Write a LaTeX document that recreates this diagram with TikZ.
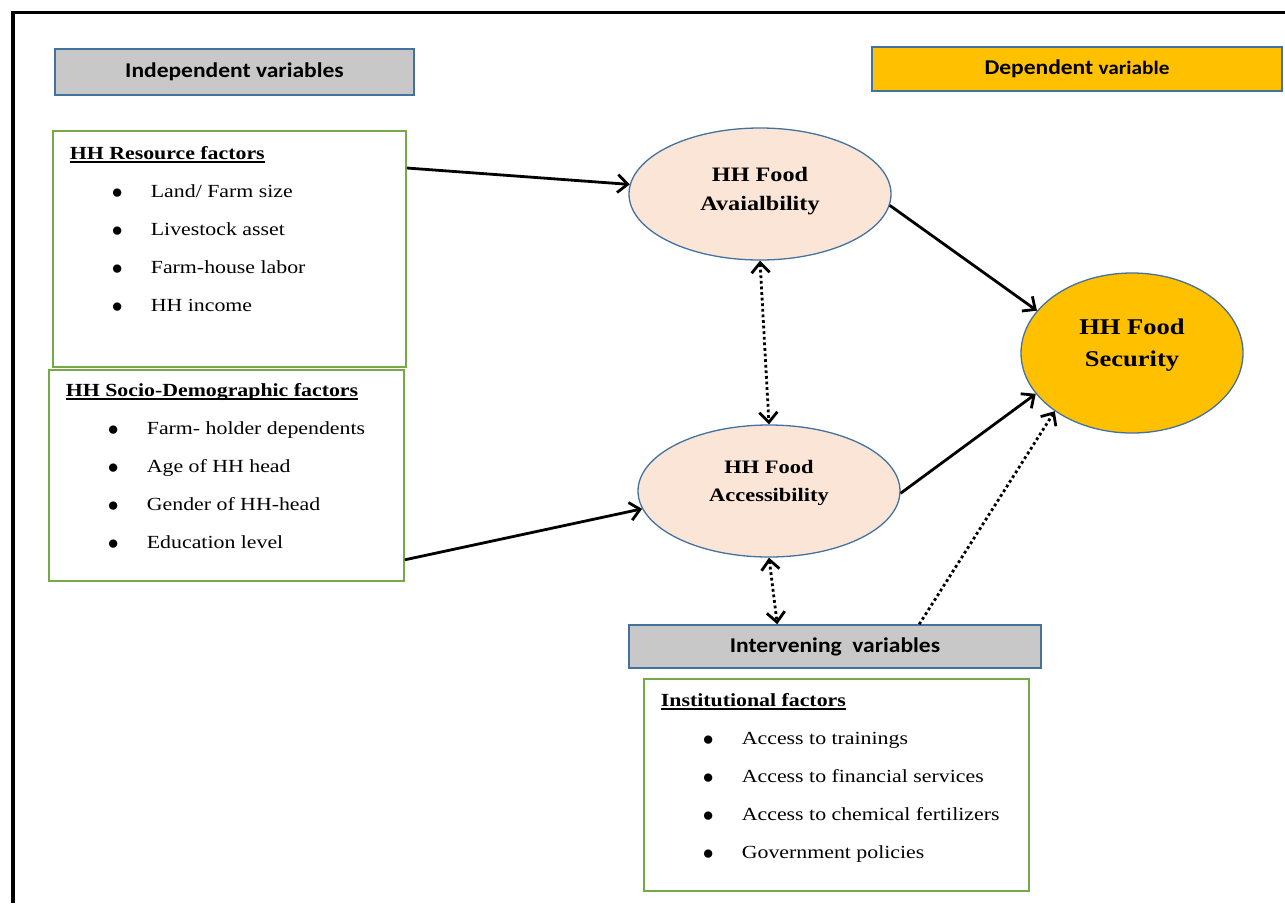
\documentclass[tikz,border=0pt]{standalone}
\usepackage{fontspec}
\setmainfont[FakeStretch=1.18]{Liberation Serif}
\newfontfamily\headsans[FakeStretch=1.12]{Carlito}
\usetikzlibrary{shapes.geometric, arrows.meta, positioning, calc}
\definecolor{boxgray}{RGB}{200, 200, 200}
\definecolor{edgeblue}{RGB}{68, 114, 160}
\definecolor{depgold}{RGB}{255, 192, 0}
\definecolor{peach}{RGB}{251, 229, 214}
\definecolor{factorgreen}{RGB}{118, 170, 70}

\newcommand{\headul}[1]{\setbox0\hbox{\textbf{#1}}\rlap{\rule[-2.6pt]{\wd0}{1.3pt}}\box0}
\newcommand{\factoritem}[1]{\\\hspace*{42pt}\makebox[39pt][l]{\raisebox{-0.6pt}{\scalebox{1.25}{$\bullet$}}}#1}
\newcommand{\lifted}[2]{\raisebox{0pt}[\height][\dimexpr\depth+#1\relax]{\begin{tabular}{@{}c@{}}#2\end{tabular}}}

\begin{document}
\begin{tikzpicture}[x=1pt, y=-1pt,
    varbox/.style={draw=edgeblue, line width=1.5pt, fill=boxgray, inner sep=0pt, font=\headsans\bfseries\fontsize{21}{25}\selectfont},
    depbox/.style={varbox, fill=depgold},
    factorbox/.style={draw=factorgreen, line width=1.8pt, anchor=north west, inner xsep=17pt, inner ysep=0pt, font=\fontsize{18.5}{38}\selectfont},
    construct/.style={ellipse, draw=edgeblue, line width=1.3pt, fill=peach, inner sep=0pt, minimum width=262pt, minimum height=132pt},
    outcome/.style={construct, fill=depgold, minimum width=222pt, minimum height=160pt},
    frame/.style={line width=3.5pt, black},
    arrow/.style={-{Straight Barb[length=10pt, width=18pt]}, line width=2.8pt, black},
    dotarrow/.style={arrow, dash pattern=on 2.8pt off 2.8pt},
    twoway/.style={dotarrow, {Straight Barb[length=10pt, width=18pt]}-{Straight Barb[length=10pt, width=18pt]}}
]
    \useasboundingbox (0,0) rectangle (1285,903);
    \draw[frame] (13,903) -- (13,12.5) -- (1285,12.5);

    % Variable headers
    \node[varbox, minimum width=359pt, minimum height=46pt] (indep) at (234.5,72) {Independent variables};
    \node[depbox, minimum width=410pt, minimum height=44pt] (dep) at (1077,69) {Dependent {\fontsize{19}{23}\selectfont variable}};
    \node[varbox, minimum width=412pt, minimum height=43pt] (inter) at (835,646.5) {Intervening~\ variables};

    % Factor boxes
    \node[factorbox] (res) at (52,130) {\parbox[c][236pt][t]{319pt}{\rule{0pt}{29pt}\headul{HH Resource factors}%
        \factoritem{Land/ Farm size}\factoritem{Livestock asset}\factoritem{Farm-house labor}\factoritem{HH income}}};
    \node[factorbox] (soc) at (48,369) {\parbox[c][211pt][t]{321pt}{\rule{0pt}{27pt}\headul{HH Socio-Demographic factors}%
        \factoritem{Farm- holder dependents}\factoritem{Age of HH head}\factoritem{Gender of HH-head}\factoritem{Education level}}};
    \node[factorbox] (inst) at (643,678) {\parbox[c][212pt][t]{351pt}{\rule{0pt}{28pt}\headul{Institutional factors}%
        \factoritem{Access to trainings}\factoritem{Access to financial services}\factoritem{Access to chemical fertilizers}\factoritem{Government policies}}};

    % Constructs
    \node[construct, font=\bfseries\fontsize{20.5}{29}\selectfont] (avail) at (760,194) {\lifted{8pt}{HH Food\\Avaialbility}};
    \node[construct, font=\bfseries\fontsize{19}{28}\selectfont] (acc) at (769,491) {\lifted{18pt}{HH Food\\Accessibility}};
    \node[outcome, font=\bfseries\fontsize{22.5}{32}\selectfont] (sec) at (1132,353) {\lifted{18pt}{HH Food\\Security}};

    % Arrows
    \draw[arrow] ($(res.north east)+(0,38)$) -- (avail);
    \draw[arrow] ($(soc.south east)+(0,-22)$) -- (acc.188);
    \draw[arrow] (avail.-5) -- (sec.156);
    \draw[arrow] (acc.-1) -- (sec.203);
    \draw[twoway] (avail.south) -- (acc.north);
    \draw[twoway] (acc.south) -- ($(inter.north west)+(149,0)$);
    \draw[dotarrow] ($(inter.north west)+(291,0)$) -- (sec.217);
\end{tikzpicture}
\end{document}
